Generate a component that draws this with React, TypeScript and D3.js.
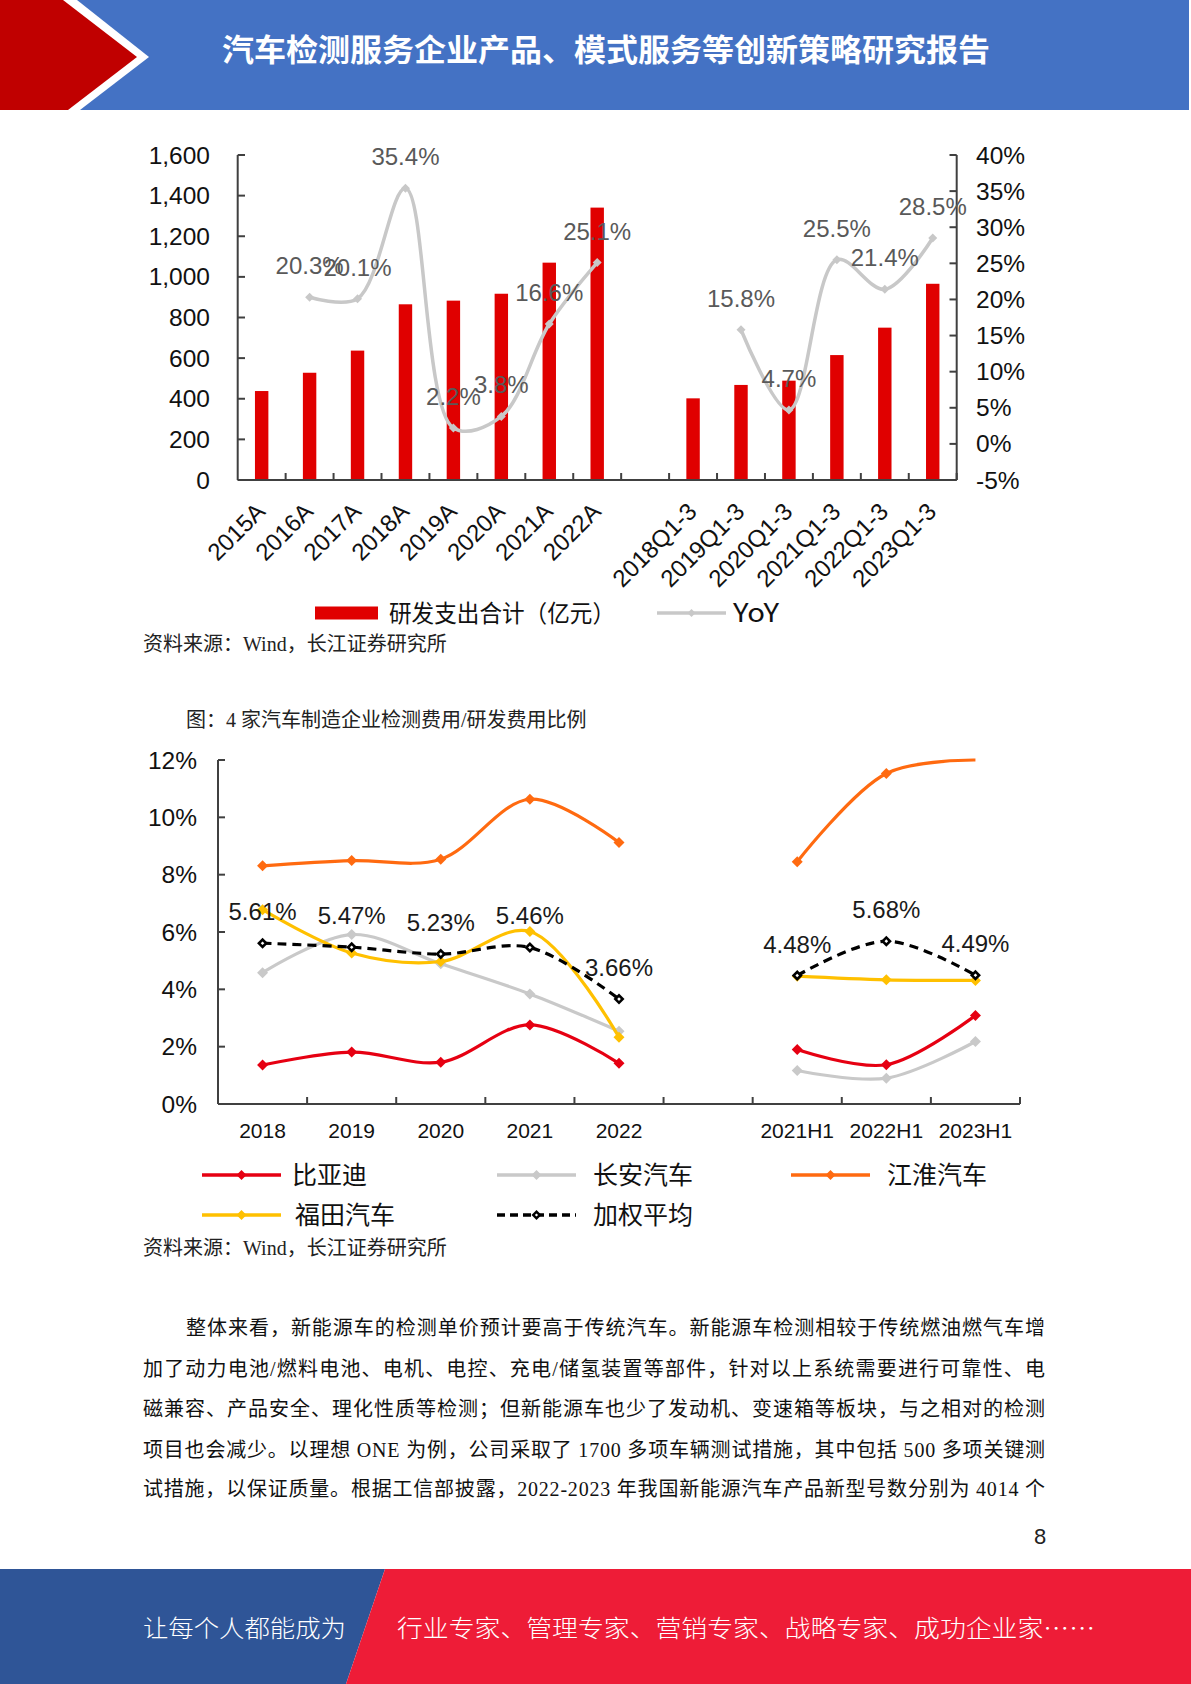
import React from "react";
import * as d3 from "d3";

// ---------- Chart 1 data ----------
const rdCategories = ["2015A", "2016A", "2017A", "2018A", "2019A", "2020A", "2021A", "2022A", "gap", "2018Q1-3", "2019Q1-3", "2020Q1-3", "2021Q1-3", "2022Q1-3", "2023Q1-3"];
const rdSpend: (number | null)[] = [438, 528, 637, 865, 883, 917, 1070, 1341, null, 402, 468, 489, 615, 750, 966];
const rdYoY: (number | null)[] = [null, 20.3, 20.1, 35.4, 2.2, 3.8, 16.6, 25.1, null, null, 15.8, 4.7, 25.5, 21.4, 28.5];
const rdLeftTicks = [0, 200, 400, 600, 800, 1000, 1200, 1400, 1600];
const rdRightTicks = [-5, 0, 5, 10, 15, 20, 25, 30, 35, 40];

// ---------- Chart 2 data ----------
const ratioCategories = ["2018", "2019", "2020", "2021", "2022", "gap", "2021H1", "2022H1", "2023H1"];
const byd: (number | null)[] = [1.36, 1.81, 1.46, 2.76, 1.42, null, 1.9, 1.37, 3.09];
const changan: (number | null)[] = [4.58, 5.91, 4.89, 3.84, 2.54, null, 1.17, 0.9, 2.18];
const jac: (number | null)[] = [8.31, 8.49, 8.54, 10.63, 9.12, null, 8.45, 11.53, 12.5];
const foton: (number | null)[] = [6.78, 5.27, 4.97, 6.02, 2.33, null, 4.46, 4.33, 4.31];
const weightedAvg: (number | null)[] = [5.61, 5.47, 5.23, 5.46, 3.66, null, 4.48, 5.68, 4.49];
const ratioTicks = [0, 2, 4, 6, 8, 10, 12];

const bodyLines = [
  "整体来看，新能源车的检测单价预计要高于传统汽车。新能源车检测相较于传统燃油燃气车增",
  "加了动力电池/燃料电池、电机、电控、充电/储氢装置等部件，针对以上系统需要进行可靠性、电",
  "磁兼容、产品安全、理化性质等检测；但新能源车也少了发动机、变速箱等板块，与之相对的检测",
  "项目也会减少。以理想 ONE 为例，公司采取了 1700 多项车辆测试措施，其中包括 500 多项关键测",
  "试措施，以保证质量。根据工信部披露，2022-2023 年我国新能源汽车产品新型号数分别为 4014 个",
];

const SANS = "'Liberation Sans', Arial, sans-serif";
const CJK = "'Noto Sans CJK SC', 'Liberation Sans', sans-serif";
const SERIF = "'Liberation Serif', 'Noto Sans CJK SC', serif";

const diamond = (r: number) => `M0,${-r}L${r},0L0,${r}L${-r},0Z`;

export default function App() {
  // ----- chart 1 scales -----
  const x1 = d3.scaleBand<string>().domain(rdCategories).range([237.7, 956.7]).paddingInner(0).paddingOuter(0);
  const yL = d3.scaleLinear().domain([0, 1600]).range([480, 155]);
  const yR = d3.scaleLinear().domain([-5, 40]).range([480, 155]);
  const bw1 = x1.bandwidth();
  const barW = bw1 * 0.28;
  const cx1 = (c: string) => (x1(c) as number) + bw1 / 2;

  const yoyPts = rdCategories.map((c, i) => ({ c, v: rdYoY[i] }));
  const yoyLine = d3
    .line<{ c: string; v: number | null }>()
    .defined((d) => d.v != null)
    .x((d) => cx1(d.c))
    .y((d) => yR(d.v as number))
    .curve(d3.curveCatmullRom.alpha(0.5));

  // ----- chart 2 scales -----
  const x2 = d3.scaleBand<string>().domain(ratioCategories).range([218, 1020]);
  const y2 = d3.scaleLinear().domain([0, 12]).range([1104, 760]).clamp(true);
  const bw2 = x2.bandwidth();
  const cx2 = (c: string) => (x2(c) as number) + bw2 / 2;
  const line2 = d3
    .line<{ c: string; v: number | null }>()
    .defined((d) => d.v != null)
    .x((d) => cx2(d.c))
    .y((d) => y2(d.v as number))
    .curve(d3.curveCatmullRom.alpha(0.5));

  const series2 = [
    { name: "比亚迪", data: byd, color: "#E60012", dash: undefined as string | undefined },
    { name: "长安汽车", data: changan, color: "#C9C9C9", dash: undefined },
    { name: "江淮汽车", data: jac, color: "#FF6A10", dash: undefined },
    { name: "福田汽车", data: foton, color: "#FFC000", dash: undefined },
    { name: "加权平均", data: weightedAvg, color: "#000000", dash: "9 6" },
  ];

  const axisColor = "#404040";

  const legend2 = [
    { s: series2[0], lx: 202, tx: 292, y: 1175 },
    { s: series2[1], lx: 497, tx: 593, y: 1175 },
    { s: series2[2], lx: 791, tx: 887, y: 1175 },
    { s: series2[3], lx: 202, tx: 295, y: 1215 },
    { s: series2[4], lx: 497, tx: 593, y: 1215 },
  ];

  return (
    <>
      <style>{`body{margin:0;background:#fff}`}</style>
      <svg width={1191} height={1684} viewBox="0 0 1191 1684" style={{ display: "block" }}>
        <rect x={0} y={0} width={1191} height={1684} fill="#fff" />
        {/* Header */}
        <rect x={0} y={0} width={1189} height={110} fill="#4472C4" />
        <polygon points="0,0 77,0 149,57 80,110 0,110" fill="#fff" />
        <polygon points="0,0 63,0 137,57 68,110 0,110" fill="#C00000" />
        <text x={606} y={61} textAnchor="middle" fontSize={31} fontWeight={700} fill="#fff" fontFamily={CJK} textLength={768} lengthAdjust="spacingAndGlyphs">
          汽车检测服务企业产品、模式服务等创新策略研究报告
        </text>

        {/* ---------- Chart 1 ---------- */}
        <g>
          {rdCategories.map((c, i) =>
            rdSpend[i] == null ? null : (
              <rect key={c} x={cx1(c) - barW / 2} y={yL(rdSpend[i] as number)} width={barW} height={480 - yL(rdSpend[i] as number)} fill="#E00000" />
            )
          )}
          {/* axes */}
          <line x1={237.7} x2={237.7} y1={155} y2={480} stroke={axisColor} strokeWidth={2} />
          <line x1={956.7} x2={956.7} y1={155} y2={480} stroke={axisColor} strokeWidth={2} />
          <line x1={237.7} x2={956.7} y1={480} y2={480} stroke={axisColor} strokeWidth={2} />
          {rdLeftTicks.map((t) => (
            <g key={"l" + t}>
              <line x1={237.7} x2={245} y1={yL(t)} y2={yL(t)} stroke={axisColor} strokeWidth={2} />
              <text x={210} y={yL(t) + 8.5} textAnchor="end" fontSize={24.5} fontFamily={SANS} fill="#111">
                {d3.format(",")(t)}
              </text>
            </g>
          ))}
          {rdRightTicks.map((t) => (
            <g key={"r" + t}>
              <line x1={949.5} x2={956.7} y1={yR(t)} y2={yR(t)} stroke={axisColor} strokeWidth={2} />
              <text x={976} y={yR(t) + 8.5} textAnchor="start" fontSize={24.5} fontFamily={SANS} fill="#111">
                {t + "%"}
              </text>
            </g>
          ))}
          {rdCategories.map((c, i) => (
            <line key={"xt" + i} x1={(x1(c) as number) + bw1} x2={(x1(c) as number) + bw1} y1={480} y2={473} stroke={axisColor} strokeWidth={2} />
          ))}
          {rdCategories.map((c) =>
            c === "gap" ? null : (
              <text key={"xl" + c} transform={`translate(${cx1(c) + 5},${513}) rotate(-45)`} textAnchor="end" fontSize={24} fontFamily={SANS} fill="#111">
                {c}
              </text>
            )
          )}
          {/* YoY line */}
          <path d={yoyLine(yoyPts) || ""} fill="none" stroke="#C8C8C8" strokeWidth={3.5} />
          {yoyPts.map((d) =>
            d.v == null ? null : <path key={"m" + d.c} d={diamond(4.5)} transform={`translate(${cx1(d.c)},${yR(d.v)})`} fill="#C8C8C8" />
          )}
          {yoyPts.map((d) =>
            d.v == null ? null : (
              <text key={"lb" + d.c} x={cx1(d.c)} y={yR(d.v) - 23} textAnchor="middle" fontSize={24} fontFamily={SANS} fill="#595959">
                {d.v.toFixed(1) + "%"}
              </text>
            )
          )}
          {/* legend */}
          <rect x={315} y={606.5} width={63} height={13} fill="#E00000" />
          <text x={389} y={622} fontSize={24} fontFamily={CJK} fill="#111" textLength={226} lengthAdjust="spacingAndGlyphs">
            研发支出合计（亿元）
          </text>
          <line x1={657} x2={726} y1={613} y2={613} stroke="#C8C8C8" strokeWidth={3.5} />
          <path d={diamond(4)} transform="translate(691.5,613)" fill="#C8C8C8" />
          <text x={733} y={622} fontSize={25} fontFamily={CJK} fill="#111" textLength={46} lengthAdjust="spacingAndGlyphs">
            YoY
          </text>
        </g>
        <text x={143} y={651} fontSize={20} fontFamily={SERIF} fill="#222">
          资料来源：Wind，长江证券研究所
        </text>

        {/* ---------- Chart 2 ---------- */}
        <text x={186} y={727} fontSize={20} fontFamily={SERIF} fill="#222">
          图：4 家汽车制造企业检测费用/研发费用比例
        </text>
        <defs>
          <clipPath id="plot2">
            <rect x={210} y={757} width={820} height={360} />
          </clipPath>
        </defs>
        <g>
          <line x1={218} x2={218} y1={760} y2={1104} stroke={axisColor} strokeWidth={2} />
          <line x1={218} x2={1020} y1={1104} y2={1104} stroke={axisColor} strokeWidth={2} />
          {ratioTicks.map((t) => (
            <g key={"rt" + t}>
              <line x1={218} x2={225} y1={y2(t)} y2={y2(t)} stroke={axisColor} strokeWidth={2} />
              <text x={197} y={y2(t) + 8.5} textAnchor="end" fontSize={24.5} fontFamily={SANS} fill="#111">
                {t + "%"}
              </text>
            </g>
          ))}
          {ratioCategories.map((c, i) => (
            <line key={"xt2" + i} x1={(x2(c) as number) + bw2} x2={(x2(c) as number) + bw2} y1={1104} y2={1097} stroke={axisColor} strokeWidth={2} />
          ))}
          {ratioCategories.map((c) =>
            c === "gap" ? null : (
              <text key={"xl2" + c} x={cx2(c)} y={1137.5} textAnchor="middle" fontSize={21} fontFamily={SANS} fill="#111">
                {c}
              </text>
            )
          )}
          <g clipPath="url(#plot2)">
            {series2.map((s) => {
              const pts = ratioCategories.map((c, i) => ({ c, v: s.data[i] }));
              return (
                <g key={s.name}>
                  <path d={line2(pts) || ""} fill="none" stroke={s.color} strokeWidth={3.2} strokeDasharray={s.dash} />
                  {pts.map((d) =>
                    d.v == null || d.v > 12 ? null : s.dash ? (
                      <g key={d.c} transform={`translate(${cx2(d.c)},${y2(d.v)})`}>
                        <path d={diamond(5.5)} fill="#000" />
                        <path d={diamond(1.8)} fill="#fff" />
                      </g>
                    ) : (
                      <path key={d.c} d={diamond(5.5)} transform={`translate(${cx2(d.c)},${y2(d.v)})`} fill={s.color} />
                    )
                  )}
                </g>
              );
            })}
          </g>
          {ratioCategories.map((c, i) =>
            weightedAvg[i] == null ? null : (
              <text key={"al" + c} x={cx2(c)} y={y2(weightedAvg[i] as number) - 23} textAnchor="middle" fontSize={24} fontFamily={SANS} fill="#1a1a1a">
                {(weightedAvg[i] as number).toFixed(2) + "%"}
              </text>
            )
          )}
          {/* legend */}
          {legend2.map(({ s, lx, tx, y }) => (
            <g key={"lg" + s.name}>
              <line x1={lx} x2={lx + 79} y1={y} y2={y} stroke={s.color} strokeWidth={3.5} strokeDasharray={s.dash ? "8 5" : undefined} />
              {s.dash ? (
                <g transform={`translate(${lx + 39.5},${y})`}>
                  <path d={diamond(5)} fill="#000" />
                  <path d={diamond(1.6)} fill="#fff" />
                </g>
              ) : (
                <path d={diamond(5)} transform={`translate(${lx + 39.5},${y})`} fill={s.color} />
              )}
              <text x={tx} y={y + 9} fontSize={25} fontFamily={CJK} fill="#111">
                {s.name}
              </text>
            </g>
          ))}
        </g>
        <text x={143} y={1255} fontSize={20} fontFamily={SERIF} fill="#222">
          资料来源：Wind，长江证券研究所
        </text>

        {/* Body text */}
        {bodyLines.map((t, i) => {
          const x = i === 0 ? 186 : 143;
          const baselines = [1335, 1376, 1416, 1457, 1496];
          return (
            <text key={"b" + i} x={x} y={baselines[i]} fontSize={20} fontFamily={SERIF} fill="#111" textLength={1045 - x} lengthAdjust="spacing">
              {t}
            </text>
          );
        })}

        {/* Page number */}
        <text x={1040} y={1544} textAnchor="middle" fontSize={22} fontFamily={SANS} fill="#222">
          8
        </text>

        {/* Footer */}
        <polygon points="0,1569 385,1569 346,1684 0,1684" fill="#2F5597" />
        <polygon points="385,1569 1191,1569 1191,1684 346,1684" fill="#EE1C37" />
        <text x={143} y={1637} fontSize={24} fontWeight={300} fontFamily={CJK} fill="#fff" textLength={203} lengthAdjust="spacingAndGlyphs">
          让每个人都能成为
        </text>
        <text x={397} y={1637} fontSize={24} fontWeight={300} fontFamily={CJK} fill="#fff" textLength={698} lengthAdjust="spacingAndGlyphs">
          行业专家、管理专家、营销专家、战略专家、成功企业家……
        </text>
      </svg>
    </>
  );
}
